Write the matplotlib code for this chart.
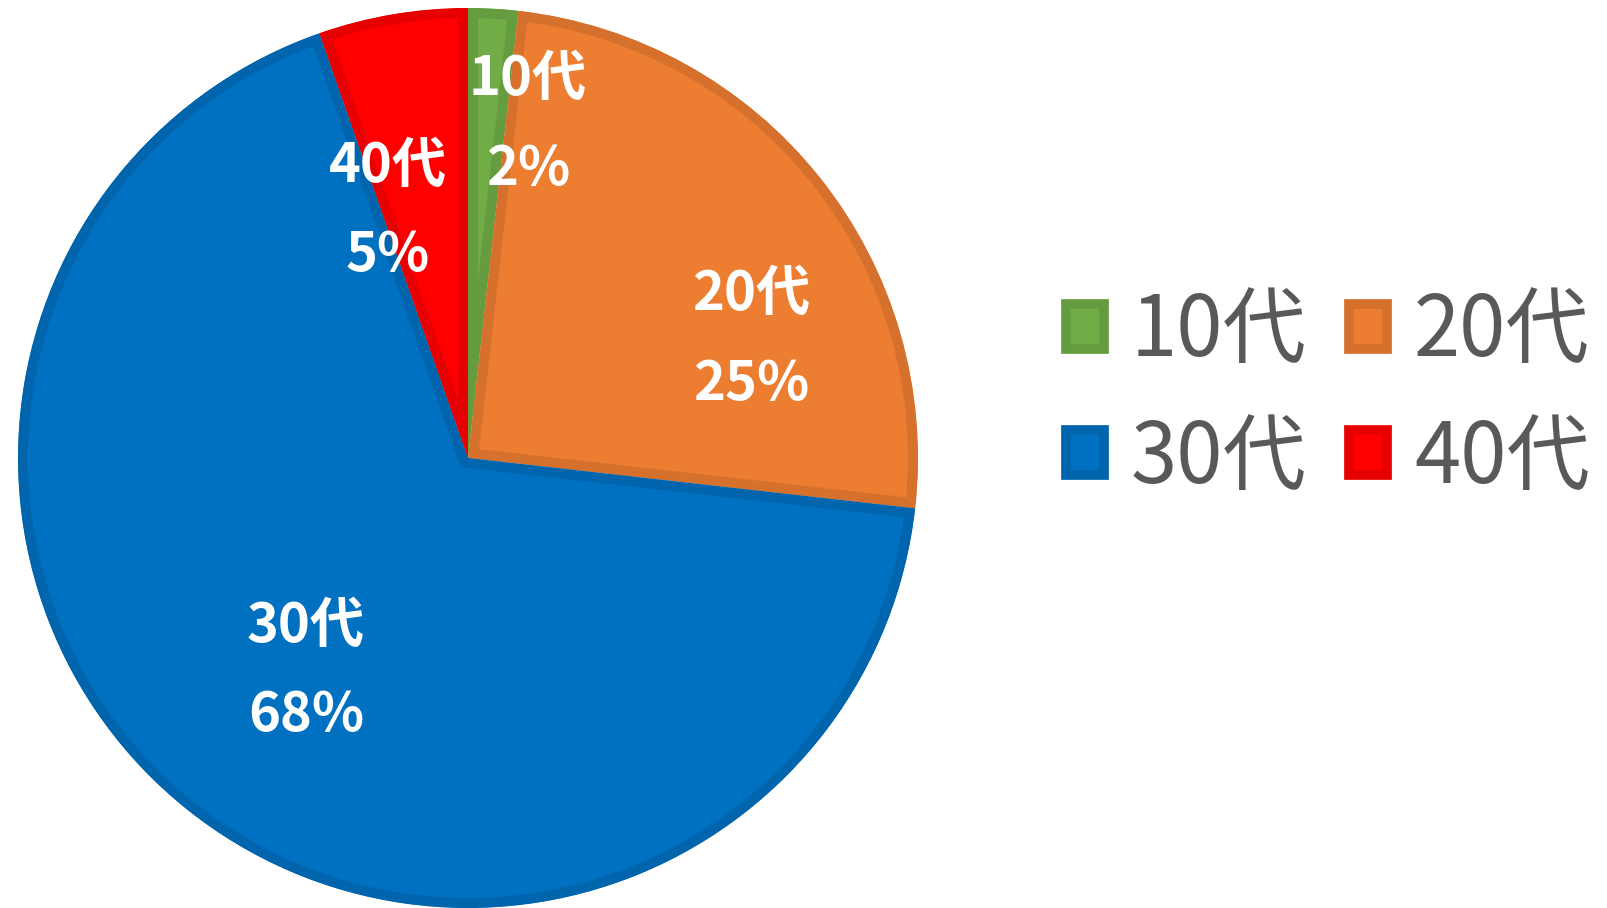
import matplotlib
matplotlib.use("Agg")
import matplotlib.pyplot as plt
from matplotlib.patches import Patch
import matplotlib.colors as mcolors

plt.rcParams['font.family'] = ['Noto Sans CJK JP', 'DejaVu Sans']

categories = ["10代", "20代", "30代", "40代"]
counts = [1, 14, 38, 3]
colors = ["#70AD47", "#ED7D31", "#0070C0", "#FF0000"]

# label positions (data coords, radius = 1)
label_pos = [(0.133, 0.742), (0.629, 0.264), (-0.36, -0.473), (-0.178, 0.549)]

def darker(c, f=0.9):
    r, g, b = mcolors.to_rgb(c)
    return (r * f, g * f, b * f)

W, H = 1607, 908
fig = plt.figure(figsize=(W / 100, H / 100), dpi=100)
cx, cy, R = 468, 458, 450
ax = fig.add_axes([(cx - R) / W, (H - cy - R) / H, 2 * R / W, 2 * R / H])

wedges, _ = ax.pie(counts, colors=colors, startangle=90, counterclock=False,
                   radius=1, wedgeprops=dict(linewidth=14.4))
for w, c in zip(wedges, colors):
    w.set_edgecolor(darker(c))
    w.set_clip_on(True)
    w.set_clip_path(w)
ax.set_xlim(-1, 1)
ax.set_ylim(-1, 1)
ax.set_aspect('equal')
ax.axis('off')

total = sum(counts)
for cat, v, (x, y) in zip(categories, counts, label_pos):
    pct = round(v / total * 100)
    ax.text(x, y + 0.1, cat, ha='center', va='center', color='white',
            fontsize=39, fontweight='bold')
    ax.text(x, y - 0.1, f"{pct}%", ha='center', va='center', color='white',
            fontsize=39, fontweight='bold')

handles = [Patch(facecolor=c, edgecolor=darker(c), linewidth=7) for c in colors]
# legend fills column-wise; reorder so rows read 10代 20代 / 30代 40代
order = [0, 2, 1, 3]
leg = fig.legend([handles[i] for i in order], [categories[i] for i in order],
                 ncol=2, fontsize=60, frameon=False, borderpad=0,
                 handlelength=0.455, handleheight=0.455, handletextpad=0.33,
                 columnspacing=0.5, labelspacing=0.48,
                 loc='center left', bbox_to_anchor=(1024 / W, 1 - 395 / H))
for t in leg.get_texts():
    t.set_color('#595959')

fig.savefig("out.png", dpi=100)
